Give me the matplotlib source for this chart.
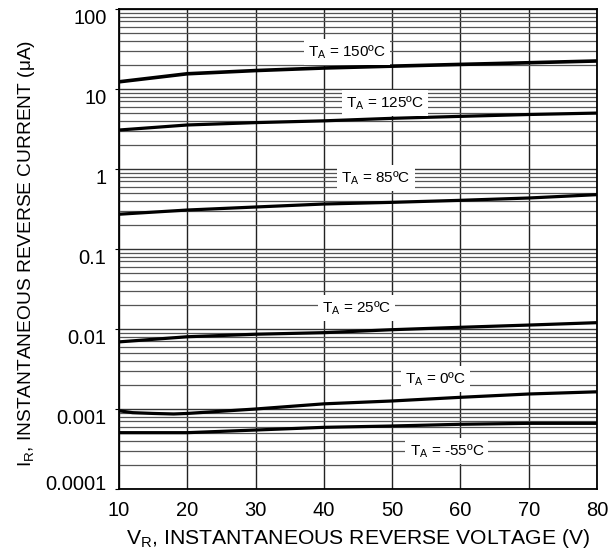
import numpy as np
import matplotlib
matplotlib.use("Agg")
import matplotlib.pyplot as plt
import matplotlib.transforms as mtransforms
from matplotlib.ticker import LogLocator, NullFormatter

plt.rcParams['font.family'] = ['Liberation Sans', 'DejaVu Sans']
plt.rcParams['mathtext.fontset'] = 'custom'
plt.rcParams['mathtext.rm'] = 'Liberation Sans'

# ---- data ----
vr = [10, 20, 30, 40, 50, 60, 70, 80]
ir_150 = [12.3, 15.5, 17.0, 18.3, 19.3, 20.3, 21.3, 22.4]
ir_125 = [3.07, 3.55, 3.8, 4.0, 4.3, 4.55, 4.8, 5.0]
ir_85 = [0.272, 0.307, 0.335, 0.365, 0.383, 0.406, 0.434, 0.478]
ir_25 = [0.0069, 0.0080, 0.0086, 0.0090, 0.0098, 0.0105, 0.0112, 0.0120]
vr_0 = [10, 12, 15, 18, 20, 30, 40, 50, 60, 70, 80]
ir_0 = [0.00095, 0.00090, 0.00088, 0.000866, 0.00088, 0.0010, 0.00116, 0.00126,
        0.0014, 0.00154, 0.00164]
ir_m55 = [0.000506, 0.000506, 0.000546, 0.00059, 0.000613, 0.000644, 0.000662, 0.000662]

labels = [r'T$_\mathregular{A}$ = 150ºC', r'T$_\mathregular{A}$ = 125ºC',
          r'T$_\mathregular{A}$ = 85ºC', r'T$_\mathregular{A}$ = 25ºC',
          r'T$_\mathregular{A}$ = 0ºC', r'T$_\mathregular{A}$ = -55ºC']
label_x = [43.4, 48.9, 47.6, 44.8, 56.3, 58.0]
label_y = [29.0, 6.68, 0.77, 0.0183, 0.00237, 0.00030]

xticks = [10, 20, 30, 40, 50, 60, 70, 80]
yticks = [0.0001, 0.001, 0.01, 0.1, 1, 10, 100]
ytick_labels = ['0.0001', '0.001', '0.01', '0.1', '1', '10', '100']

fig = plt.figure(figsize=(6.09, 5.54), dpi=100)
ax = fig.add_axes([119/609, 1-489/554, (597-119)/609, (489-9)/554])
ax.set_yscale('log')
ax.set_xlim(10, 80)
ax.set_ylim(1e-4, 100)

ax.set_xticks(xticks)
ax.set_xticklabels([str(v) for v in xticks])
ax.set_yticks(yticks)
ax.set_yticklabels(ytick_labels)
ax.yaxis.set_minor_locator(LogLocator(base=10, subs=np.arange(2, 10), numticks=20))
ax.yaxis.set_minor_formatter(NullFormatter())

ax.grid(True, which='major', axis='x', color='#222222', lw=1.0)
ax.grid(True, which='major', axis='y', color='#333333', lw=1.0)
ax.grid(True, which='minor', axis='y', color='#555555', lw=0.9)
ax.set_axisbelow(True)

ax.tick_params(axis='both', which='major', labelsize=14.5, length=0, color='black')
ax.tick_params(axis='y', which='major', length=3, direction='out', pad=6)
ax.tick_params(axis='x', which='major', pad=9)
ax.tick_params(axis='y', which='minor', length=0)
for s in ax.spines.values():
    s.set_linewidth(1.3)

lw = 2.3
ax.plot(vr, ir_150, color='black', lw=2.6, solid_capstyle='butt', zorder=3)
ax.plot(vr, ir_125, color='black', lw=lw, solid_capstyle='butt', zorder=3)
ax.plot(vr, ir_85, color='black', lw=lw, solid_capstyle='butt', zorder=3)
ax.plot(vr, ir_25, color='black', lw=lw, solid_capstyle='butt', zorder=3)
ax.plot(vr_0, ir_0, color='black', lw=lw, solid_capstyle='butt', zorder=3)
ax.plot(vr, ir_m55, color='black', lw=lw, solid_capstyle='butt', zorder=3)

for t, x, y in zip(labels, label_x, label_y):
    ax.text(x, y, t, ha='center', va='center', fontsize=11, zorder=4,
            bbox=dict(facecolor='white', edgecolor='none', pad=3))

ax.set_xlabel(r'V$_\mathregular{R}$, INSTANTANEOUS REVERSE VOLTAGE (V)', fontsize=15.2, labelpad=5)
ax.set_ylabel(r'I$_\mathregular{R}$, INSTANTANEOUS REVERSE CURRENT (μA)', fontsize=13.8, labelpad=8)
ax.yaxis.set_label_coords(-0.172, 0.49)

# shift y tick labels as in the reference (printed slightly below their lines)
for i, lab in enumerate(ax.get_yticklabels()):
    dy = 7/100 if i == 0 else -8/100
    lab.set_transform(lab.get_transform() +
                      mtransforms.ScaledTranslation(0, dy, fig.dpi_scale_trans))

fig.savefig('out.png', dpi=100)
